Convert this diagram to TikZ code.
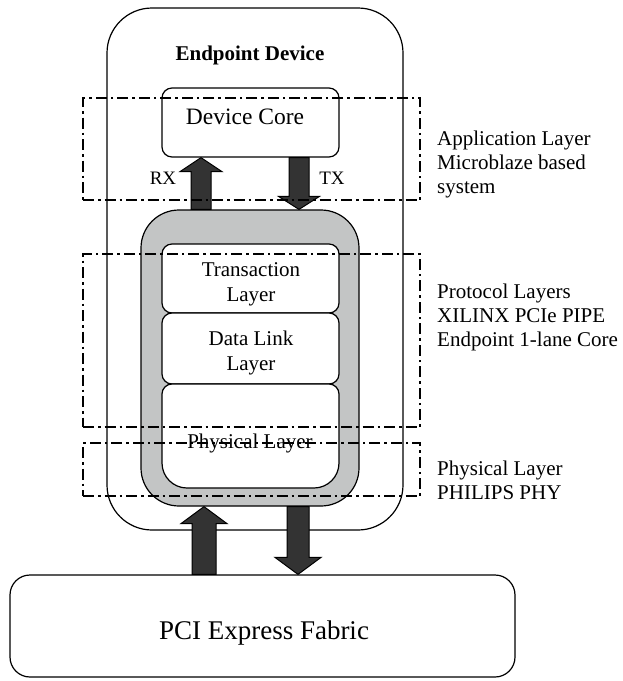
\documentclass[tikz,border=0pt]{standalone}
\usepackage{fontspec}
\setmainfont{Liberation Serif}
\usetikzlibrary{calc}
\definecolor{layergray}{HTML}{C3C5C5}
\definecolor{arrowdark}{HTML}{333333}

% Vertical block arrow: #1 tail, #2 tip, #3 shaft half width, #4 head half width, #5 head length
\newcommand{\blockarrow}[5]{%
  \filldraw[fatarrow] let \p1=(#1), \p2=(#2),
      \n1={ifthenelse(\y2>\y1,1,-1)*#5},
      \n2={\y2-(\n1)} in
    (\x1-#3pt,\y1) -- (\x1-#3pt,\n2) -- (\x1-#4pt,\n2) -- (\x1,\y2)
    -- (\x1+#4pt,\n2) -- (\x1+#3pt,\n2) -- (\x1+#3pt,\y1) -- cycle;}

\begin{document}
\begin{tikzpicture}[x=1pt,y=1pt,
  boxline/.style={draw=black,line width=1.2pt},
  rbox/.style={boxline,fill=white,rectangle,rounded corners=#1,inner sep=0pt},
  zone/.style={draw=black,line width=1.3pt,dash pattern=on 11pt off 4pt on 2.5pt off 4pt,
               rectangle,inner sep=0pt},
  fatarrow/.style={fill=arrowdark,draw=black,line width=1pt,line join=miter},
  txt/.style={inner sep=0pt,font=\fontsize{21}{25}\selectfont,align=center},
  side/.style={inner sep=0pt,font=\fontsize{21}{24}\selectfont,align=left,anchor=west}]
\useasboundingbox (0,0) rectangle (623,-681);

% endpoint device enclosure
\node[rbox=45pt,minimum width=296pt,minimum height=522pt] (ep) at (255,-269) {};
\node[inner sep=0pt,font=\bfseries\fontsize{21}{25}\selectfont] (eptitle) at (250,-55) {Endpoint Device};

% application core
\node[rbox=10pt,minimum width=177pt,minimum height=69pt] (core) at (250.5,-122.5) {};
\node[txt,font=\fontsize{23.5}{28}\selectfont] (coretext) at (245,-117) {Device Core};

% protocol stack
\node[rbox=38pt,fill=layergray,minimum width=218pt,minimum height=296pt] (stack) at (250,-358) {};
\node[rbox=10pt,minimum width=177pt,minimum height=69pt] (tl) at (250.5,-278.5) {};
\node[txt] (tltext) at (251,-284) {Transaction\\Layer};
\node[rbox=10pt,minimum width=177pt,minimum height=71pt] (dl) at (250.5,-348.5) {};
\node[txt] (dltext) at (251,-352.5) {Data Link\\Layer};
\draw[boxline,fill=white] (162,-394) -- (162,-463) arc[start angle=180,end angle=270,radius=25]
  -- (314,-488) arc[start angle=270,end angle=360,radius=25]
  -- (339,-394) arc[start angle=0,end angle=90,radius=10]
  -- (172,-384) arc[start angle=90,end angle=180,radius=10] -- cycle;
\node[txt] (phtext) at (250,-443) {Physical Layer};

% fabric
\node[rbox=20pt,minimum width=505pt,minimum height=102pt] (pci) at (262.5,-626) {};
\node[txt,font=\fontsize{27}{32}\selectfont] (pcitext) at (264,-633) {PCI Express Fabric};

% data paths
\coordinate (rxcol) at (201,0);
\coordinate (txcol) at (299,0);
\coordinate (upcol) at (204,0);
\coordinate (dncol) at (298,0);
\blockarrow{stack.north -| rxcol}{core.south -| rxcol}{10}{21}{14}
\blockarrow{core.south -| txcol}{stack.north -| txcol}{10}{20.5}{13}
\blockarrow{pci.north -| upcol}{stack.south -| upcol}{12}{23}{17}
\blockarrow{stack.south -| dncol}{pci.north -| dncol}{11}{23}{17}
\node[txt,font=\fontsize{19}{22}\selectfont] (rx) at (163,-178) {RX};
\node[txt,font=\fontsize{19}{22}\selectfont] (tx) at (332,-178) {TX};

% layer zones
\node[zone,minimum width=337pt,minimum height=102pt] (appzone) at (251.5,-149) {};
\node[zone,minimum width=337pt,minimum height=173pt] (protzone) at (251.5,-340.5) {};
\node[zone,minimum width=337pt,minimum height=53pt] (phyzone) at (251.5,-469.5) {};

\node[side] (applabel) at (437,-164) {Application Layer\\Microblaze based\\system};
\node[side] (protlabel) at (437,-317.5) {Protocol Layers\\XILINX PCIe PIPE\\Endpoint 1-lane Core};
\node[side] (phylabel) at (437,-480) {Physical Layer\\PHILIPS PHY};
\end{tikzpicture}
\end{document}
